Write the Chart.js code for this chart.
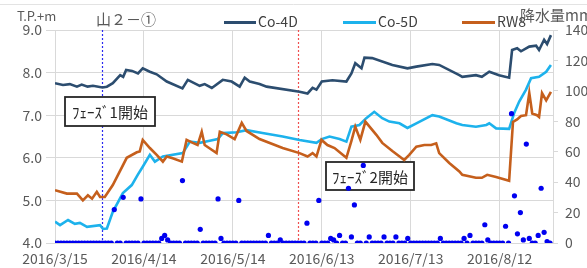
<!DOCTYPE html>
<html><head><meta charset="utf-8">
<script src="https://cdn.jsdelivr.net/npm/chart.js@4/dist/chart.umd.min.js"></script>
<style>html,body{margin:0;padding:0;background:#fff;overflow:hidden}</style>
</head><body>
<canvas id="c" width="587" height="268"></canvas>
<script>
// x values are days elapsed since 2016/3/15
const xTickLabels = ['2016/3/15','2016/4/14','2016/5/14','2016/6/13','2016/7/13','2016/8/12'];
const leftTitle = 'T.P.+m';
const rightTitle = '降水量mm';
const siteLabel = '山２－①';
const seriesNames = ['Co-4D','Co-5D','RW8','降水量'];

const co4dDays = [0,2.7,5,7.4,9,11,12.8,16,17.5,19.5,22,23,24,26,28,29.6,32,34.3,37.7,43,44.8,48.8,50.5,52.9,56.6,59.6,62.3,64,65.7,69,71.4,82.5,85.2,86.9,88.2,90,93.6,98.3,100,101.3,103.4,104.4,107,113.8,118.9,121.9,127.3,129.6,136.4,137.4,142,144,146.5,149.8,153.2,154.2,155.9,157.2,160,162.3,163.3,165,166,167.3];
const co4dVals = [7.75,7.71,7.73,7.67,7.72,7.67,7.69,7.65,7.67,7.75,7.94,7.90,8.06,8.04,7.98,8.10,8.02,7.96,7.79,7.63,7.83,7.69,7.73,7.64,7.83,7.79,7.67,7.88,7.79,7.73,7.67,7.55,7.51,7.64,7.60,7.79,7.82,7.79,7.98,8.22,8.10,8.35,8.34,8.18,8.10,8.14,8.20,8.18,7.94,7.90,7.94,7.90,8.02,7.94,7.88,8.53,8.57,8.50,8.61,8.63,8.53,8.77,8.67,8.88];

const co5dDays = [0,1.7,4.4,6.7,8.4,10.8,15.2,16.2,17.5,19.5,22.9,25.9,27.9,29.6,32,33.7,36.4,43.1,45.5,48.8,52.2,54.9,56.6,61.3,64.6,70,76.8,82.5,88.2,90,92.6,96,98.3,100,102.7,105,107.7,110.4,112.8,116.2,118.9,121.9,127.3,129.6,135.4,137.4,142,145.5,146.5,148.8,153.2,154.9,156.6,158.9,160.6,163.3,165.7,167.3];
const co5dVals = [4.50,4.42,4.54,4.45,4.47,4.38,4.42,4.33,4.34,4.73,5.17,5.36,5.60,5.79,6.07,5.91,6.03,6.11,6.38,6.35,6.40,6.44,6.58,6.60,6.65,6.58,6.50,6.42,6.35,6.44,6.50,6.44,6.38,6.73,6.77,6.93,7.08,6.93,6.85,6.81,6.70,6.81,7.00,6.97,6.81,6.77,6.73,6.77,6.81,6.69,6.68,7.05,7.32,7.60,7.87,7.90,8.02,8.18];

const rw8Days = [0,4,7.4,9.4,11.1,12.5,14.1,15.2,16.8,19.5,24.2,27.6,28.6,29.6,32,34.3,36.4,37.7,39.7,42.8,44.4,46.5,48.1,49.5,50.5,54.5,55.6,57.9,60.6,63,64.6,69,76.8,82.5,85.2,86.9,88.2,89.9,91.9,94.3,98.3,100,101.3,103,104.7,108.4,110.4,113.8,117.8,119.5,121.9,124.6,126.9,128.6,129.6,133,136.4,137.4,142,144,145.8,148.8,153.2,154.5,155.9,157.2,158.9,160,161,162.6,163.3,164.3,165.7,167.3];
const rw8Vals = [5.24,5.16,5.16,5.00,5.12,5.04,5.20,5.08,5.08,5.36,6.00,6.13,6.15,6.42,6.23,6.07,5.91,6.03,5.99,5.91,6.42,6.35,6.30,6.61,6.30,6.11,6.61,6.55,6.44,6.82,6.63,6.44,6.23,6.11,6.03,6.11,6.03,6.42,6.30,6.23,6.00,6.40,6.73,6.42,6.85,6.54,6.35,6.16,5.95,6.07,6.26,6.30,6.30,6.34,6.11,5.88,5.68,5.60,5.53,5.53,5.60,5.55,5.46,6.84,6.90,6.98,7.00,7.52,7.04,7.00,6.96,7.52,7.35,7.55];

// daily rainfall (mm), day 0 = 2016/3/15
const rainfall = [
 0,0,0,0,0,0,0,0,0,0,
 0,0,0,0,0,0,0,0,0,0,
 22,0,0,30,0,0,0,0,0,29,
 0,0,0,0,0,0,3,5,2,0,
 0,0,0,41,0,0,0,0,0,9,
 0,0,0,0,0,29,3,0,0,0,
 0,0,28,0,0,0,0,0,0,0,
 0,0,5,0,0,0,2,0,0,0,
 0,0,0,0,0,13,0,0,0,28,
 0,0,0,3,2,0,5,0,0,36,
 4,25,0,0,51,0,4,0,0,0,
 0,4,0,0,0,4,0,0,0,3,
 0,0,0,0,0,0,0,0,0,0,
 3,0,0,0,0,0,0,0,3,0,
 5,0,0,0,0,12,2,0,0,0,
 0,0,11,0,85,31,6,20,2,65,
 3,0,0,5,36,7,1,0
];

const phaseDays = [16, 82];
const phaseLabels = ['ﾌｪｰｽﾞ1開始', 'ﾌｪｰｽﾞ2開始'];

const FONT = '"Noto Sans CJK JP", "Noto Sans", sans-serif';
const COLORS = ['#2C4D6F', '#1DB2EC', '#C55F1C', '#0000F0'];

const pairs = (xs, ys) => xs.map((x, i) => ({x: x, y: ys[i]}));

const overlay = {
  id: 'overlay',
  beforeDatasetsDraw(chart) {
    const ctx = chart.ctx, a = chart.chartArea, xs = chart.scales.x;
    ctx.save();
    // chart frame top edge
    ctx.strokeStyle = '#e3e3e3';
    ctx.lineWidth = 1;
    ctx.beginPath(); ctx.moveTo(0, 4.5); ctx.lineTo(587, 4.5); ctx.stroke();
    // phase start lines
    const lc = ['#2a2af0', '#f05050'];
    phaseDays.forEach((d, i) => {
      const px = Math.round(xs.getPixelForValue(d)) + 0.5;
      ctx.strokeStyle = lc[i];
      ctx.lineWidth = 1.2;
      ctx.setLineDash([2, 2]);
      ctx.beginPath(); ctx.moveTo(px, a.top); ctx.lineTo(px, a.bottom); ctx.stroke();
    });
    ctx.setLineDash([]);
    // annotation boxes
    const boxes = [[65, 97, 90, 29], [326, 162, 88, 28]];
    boxes.forEach((b, i) => {
      ctx.fillStyle = '#fff';
      ctx.fillRect(b[0], b[1], b[2], b[3]);
      ctx.strokeStyle = '#262626';
      ctx.lineWidth = 1.8;
      ctx.strokeRect(b[0], b[1], b[2], b[3]);
      ctx.fillStyle = '#262626';
      ctx.font = '15px ' + FONT;
      ctx.textAlign = 'center';
      ctx.textBaseline = 'middle';
      ctx.fillText(phaseLabels[i], b[0] + b[2] / 2, b[1] + b[3] / 2 + 1);
    });
    ctx.restore();
  },
  afterDraw(chart) {
    const ctx = chart.ctx;
    ctx.save();
    ctx.textBaseline = 'middle';
    ctx.textAlign = 'left';
    ctx.fillStyle = '#595959';
    ctx.font = '13px ' + FONT;
    ctx.fillText(leftTitle, 17, 16);
    ctx.font = '15px ' + FONT;
    ctx.fillText(siteLabel, 96, 19);
    // legend
    const leg = [[224, 256, 258], [343, 376, 378], [462, 495, 497]];
    ctx.font = '14px ' + FONT;
    leg.forEach((L, i) => {
      ctx.strokeStyle = COLORS[i];
      ctx.lineWidth = 3;
      ctx.beginPath(); ctx.moveTo(L[0], 22.5); ctx.lineTo(L[1], 22.5); ctx.stroke();
      ctx.fillStyle = '#404040';
      ctx.fillText(seriesNames[i], L[2], 22);
    });
    ctx.fillStyle = '#595959';
    ctx.font = '15px ' + FONT;
    ctx.fillText(rightTitle, 520, 15);
    ctx.restore();
  }
};

new Chart(document.getElementById('c'), {
  type: 'line',
  data: {
    datasets: [
      {label: seriesNames[0], data: pairs(co4dDays, co4dVals), borderColor: COLORS[0], borderWidth: 2.6, pointRadius: 0, tension: 0, yAxisID: 'y', order: 4},
      {label: seriesNames[1], data: pairs(co5dDays, co5dVals), borderColor: COLORS[1], borderWidth: 2.6, pointRadius: 0, tension: 0, yAxisID: 'y', order: 3},
      {label: seriesNames[2], data: pairs(rw8Days, rw8Vals), borderColor: COLORS[2], borderWidth: 2.6, pointRadius: 0, tension: 0, yAxisID: 'y', order: 2},
      {label: seriesNames[3], data: rainfall.map((v, i) => ({x: i, y: v})), showLine: false, pointRadius: 2.6, pointBackgroundColor: COLORS[3], pointBorderWidth: 0, borderColor: COLORS[3], yAxisID: 'y1', order: 1}
    ]
  },
  options: {
    responsive: false,
    animation: false,
    devicePixelRatio: 1,
    layout: {padding: {top: 30, left: 0, right: 0, bottom: 0}},
    plugins: {legend: {display: false}, tooltip: {enabled: false}},
    scales: {
      x: {
        type: 'linear', min: 0, max: 168,
        ticks: {stepSize: 30, includeBounds: false, autoSkip: false, maxRotation: 0, padding: 7,
          color: '#595959', font: {family: FONT, size: 14},
          callback: v => (v % 30 === 0 && xTickLabels[v / 30]) ? xTickLabels[v / 30] : ''},
        grid: {color: '#d9d9d9', drawTicks: false},
        border: {display: false},
        afterFit(s) { s.height = 25; }
      },
      y: {
        position: 'left', min: 4, max: 9,
        ticks: {stepSize: 1, padding: 4, color: '#595959', font: {family: FONT, size: 14}, callback: v => v.toFixed(1)},
        grid: {color: '#d9d9d9', tickLength: 9},
        border: {display: false},
        afterFit(s) { s.width = 55; }
      },
      y1: {
        position: 'right', min: 0, max: 140,
        ticks: {stepSize: 20, padding: 7, color: '#595959', font: {family: FONT, size: 14}},
        grid: {drawOnChartArea: false, color: '#d9d9d9', tickLength: 5},
        border: {display: true, color: '#d9d9d9'},
        afterFit(s) { s.width = 34; }
      }
    }
  },
  plugins: [overlay]
});
</script>
</body></html>
